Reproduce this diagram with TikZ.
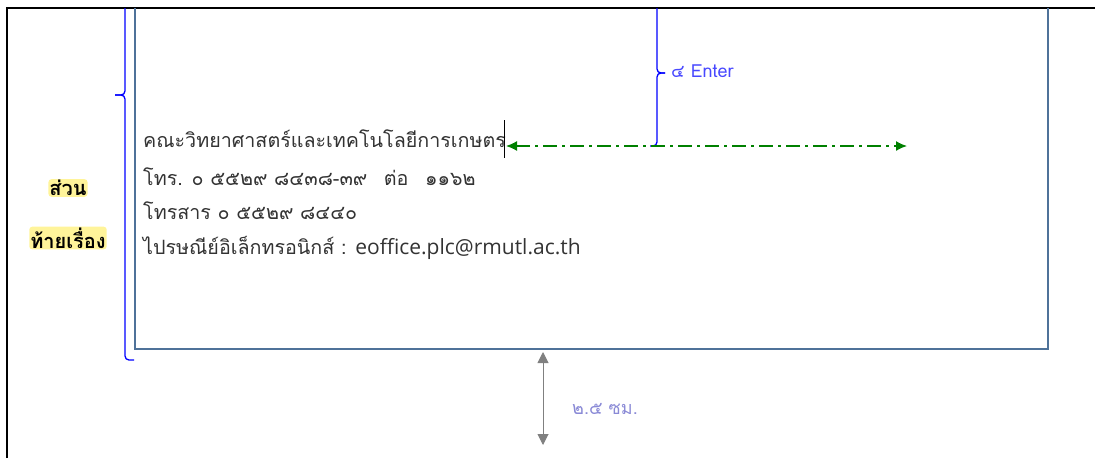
\documentclass[tikz,border=0pt]{standalone}
\usepackage{fontspec}
\newfontfamily\thaifont[Script=Thai]{Loma}
\newfontfamily\latinfont{Open Sans}
\usetikzlibrary{arrows.meta}
\definecolor{framegrey}{HTML}{4F7299}
\definecolor{bracecol}{HTML}{0000FF}
\definecolor{dimgreen}{HTML}{008000}
\definecolor{entercol}{HTML}{4848FF}
\definecolor{cmcol}{HTML}{8A8AD6}
\definecolor{glow}{HTML}{FFF49A}
\definecolor{inktext}{HTML}{333333}
\tikzset{
  bodytext/.style={anchor=base west, inner sep=0pt, text=inktext, font=\thaifont\fontsize{19.7}{24}\selectfont},
  notetext/.style={anchor=west, inner sep=0pt, font=\thaifont\fontsize{18}{21}\selectfont},
  sidelabel/.style={inner sep=1pt, fill=glow, rounded corners=3pt, font=\thaifont\bfseries\fontsize{20}{24}\selectfont},
  bracepath/.style={draw=bracecol, line width=1.3pt, rounded corners=4pt},
}
\begin{document}
\begin{tikzpicture}[x=1pt,y=-1pt]
\useasboundingbox (0,0) rectangle (1095,458);
% page edge
\draw[line width=1.8pt] (7,458) -- (7,8) -- (1095,8);
% text block frame
\draw[framegrey, line width=1.4pt] (135,8) -- (135,349) -- (1048,349) -- (1048,8);

% body lines
\node[bodytext] (l1) at (143,147) {คณะวิทยาศาสตร์และเทคโนโลยีการเกษตร};
\node[bodytext] (l2) at (143,185) {โทร. ๐ ๕๕๒๙ ๘๔๓๘-๓๙\ \ \,ต่อ\ \ \,๑๑๖๒};
\node[bodytext] (l3) at (143,219) {โทรสาร ๐ ๕๕๒๙ ๘๔๔๐};
\node[bodytext] (l4) at (143,254) {ไปรษณีย์อิเล็กทรอนิกส์ : {\latinfont\fontsize{21}{24}\selectfont eoffice.plc@rmutl.ac.th}};

% text cursor
\coordinate (cur1) at (504,120);
\coordinate (cur2) at (504,158);
\draw[line width=0.8pt] (cur1) -- (cur2);

% side label
\node[sidelabel] (s1) at (68,188) {ส่วน};
\node[sidelabel] (s2) at (68,238) {ท้ายเรื่อง};

% left brace
\draw[bracepath] (134,360) -- (125,360) -- (125,95) -- (115,95);
\draw[bracepath] (115,95) -- (125,95) -- (125,8);
% upper brace
\draw[bracepath] (650,146) -- (657,146) -- (657,73) -- (665,73);
\draw[bracepath] (665,73) -- (657,73) -- (657,8);
\node[notetext, text=entercol] (enter) at (671,71) {๔ Enter};

% width marker
\coordinate (g1) at (506,146);
\coordinate (g2) at (907,146);
\draw[dimgreen, line width=1.4pt, dash pattern=on 14pt off 5pt on 3pt off 5pt,
      {Latex[length=11pt,width=10pt]}-{Latex[length=11pt,width=10pt]}] (g1) -- (g2);

% bottom margin marker
\coordinate (m1) at (543,352);
\coordinate (m2) at (543,445);
\draw[gray, line width=1pt, {Triangle[length=11pt,width=11pt]}-{Triangle[length=11pt,width=11pt]}] (m1) -- (m2);
\node[notetext, text=cmcol] (cm) at (572,409) {๒.๕ ซม.};
\end{tikzpicture}
\end{document}
